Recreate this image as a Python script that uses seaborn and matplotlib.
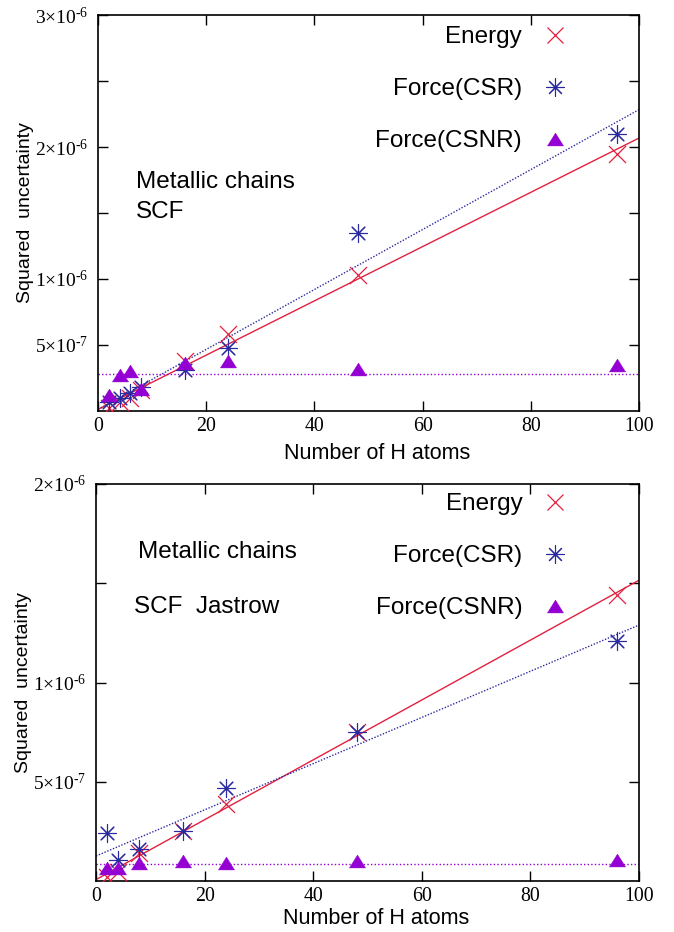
import numpy as np
import pandas as pd
import matplotlib
matplotlib.use("Agg")
import matplotlib.pyplot as plt
import seaborn as sns
from matplotlib.lines import Line2D

# ---------------- data (values in units of 1e-6) ----------------
n_top = [2, 4, 6, 8, 16, 24, 48, 96]
energy_top = [0.02, 0.07, 0.10, 0.16, 0.38, 0.58, 1.03, 1.95]
csr_top = [0.07, 0.10, 0.14, 0.18, 0.31, 0.48, 1.35, 2.10]
csnr_top = [0.12, 0.27, 0.30, 0.17, 0.36, 0.38, 0.32, 0.35]

n_bot = [2, 4, 8, 16, 24, 48, 96]
energy_bot = [0.02, 0.045, 0.14, 0.25, 0.39, 0.75, 1.44]
csr_bot = [0.24, 0.105, 0.16, 0.25, 0.47, 0.75, 1.21]
csnr_bot = [0.065, 0.065, 0.09, 0.10, 0.09, 0.10, 0.105]

series_labels = ["Energy", "Force(CSR)", "Force(CSNR)"]
x_ticks = [0, 20, 40, 60, 80, 100]
x_tick_labels = ["0", "20", "40", "60", "80", "100"]
y_ticks_top = [0.5e-6, 1e-6, 1.5e-6, 2e-6, 2.5e-6, 3e-6]
y_tick_labels_top = ["5×10$^{\u20107}$", "1×10$^{\u20106}$", "", "2×10$^{\u20106}$", "", "3×10$^{\u20106}$"]
y_ticks_bot = [0.5e-6, 1e-6, 1.5e-6, 2e-6]
y_tick_labels_bot = ["5×10$^{\u20107}$", "1×10$^{\u20106}$", "", "2×10$^{\u20106}$"]
text_top = ["Metallic chains", "SCF"]
text_bot = ["Metallic chains", "SCF  Jastrow"]
xlabel = "Number of H atoms"
ylabel = "Squared  uncertainty"
UNIT = 1e-6

# ---------------- style ----------------
sns.set_style("ticks", {"axes.edgecolor": "black", "text.color": "black",
                        "xtick.color": "black", "ytick.color": "black",
                        "axes.labelcolor": "black"})
plt.rcParams["font.family"] = ["Liberation Sans", "DejaVu Sans"]
plt.rcParams["mathtext.fontset"] = "custom"
plt.rcParams["mathtext.rm"] = "Liberation Serif"
plt.rcParams["mathtext.it"] = "Liberation Serif:italic"
plt.rcParams["mathtext.default"] = "rm"

RED = "#e3203f"
BLUE = "#2a2aa0"
PURPLE = "#9400d3"
TRI = [(0, 0.8), (-1, -0.8), (1, -0.8), (0, 0.8)]
AST = (8, 2, 0)

fig = plt.figure(figsize=(6.74, 9.32), dpi=100)
ax_top = fig.add_axes([98 / 674, 1 - 411 / 932, 541 / 674, 396 / 932])
ax_bot = fig.add_axes([96 / 674, 1 - 881 / 932, 543 / 674, 397 / 932])


def panel(ax, n, e, c, s, ymax, yticks, ylabs, texts, text_pos, leg_anchor, xlab_y):
    df = pd.DataFrame({"n": n,
                       "energy": np.array(e) * UNIT,
                       "csr": np.array(c) * UNIT,
                       "csnr": np.array(s) * UNIT})
    ax.set_xlim(0, 100)
    ax.set_ylim(0, ymax)
    sns.regplot(data=df, x="n", y="energy", ax=ax, scatter=False, ci=None,
                truncate=False, line_kws=dict(color=RED, lw=1.0))
    sns.regplot(data=df, x="n", y="csr", ax=ax, scatter=False, ci=None,
                truncate=False, line_kws=dict(color=BLUE, lw=1.0, ls=(0, (1, 1.2))))
    ax.axhline(df["csnr"].mean(), color=PURPLE, lw=1.0, ls=(0, (1, 1.6)))
    sns.scatterplot(data=df, x="n", y="energy", ax=ax, marker="x", color=RED,
                    s=150, linewidth=0.9, zorder=3)
    sns.scatterplot(data=df, x="n", y="csr", ax=ax, marker=AST, color=BLUE,
                    s=170, linewidth=0.8, zorder=3)
    sns.scatterplot(data=df, x="n", y="csnr", ax=ax, marker=TRI, color=PURPLE,
                    s=135, edgecolor=PURPLE, linewidth=0.3, zorder=3)
    ax.set_xlim(0, 100)
    ax.set_ylim(0, ymax)

    ax.set_xticks(x_ticks, x_tick_labels, fontfamily="Liberation Serif", fontsize=14.3)
    ax.set_yticks(yticks, ylabs, fontfamily="Liberation Serif", fontsize=14)
    ax.tick_params(direction="in", length=7, width=1, top=True, right=True)
    ax.tick_params(axis="x", pad=4)
    ax.tick_params(axis="y", pad=7)
    for sp in ax.spines.values():
        sp.set_linewidth(1.2)
        sp.set_color("black")

    ax.set_xlabel(xlabel, fontsize=15.5)
    ax.set_ylabel(ylabel, fontsize=14)
    ax.xaxis.set_label_coords(0.516, xlab_y)
    ax.yaxis.set_label_coords(-0.118, 0.5)

    for t, (tx, ty) in zip(texts, text_pos):
        ax.text(tx, ty, t, transform=ax.transAxes, fontsize=17.5,
                ha="left", va="baseline")

    handles = [
        Line2D([], [], ls="none", marker="x", color=RED, markersize=12.2, mew=0.9),
        Line2D([], [], ls="none", marker=AST, color=BLUE, markersize=13, mew=0.8),
        Line2D([], [], ls="none", marker=TRI, color=PURPLE, markersize=11.6, mew=0.3),
    ]
    ax.legend(handles, series_labels, loc="upper right", bbox_to_anchor=leg_anchor,
              markerfirst=False, frameon=False, fontsize=17.5, labelspacing=1.24,
              handlelength=1.0, handletextpad=0.85, borderaxespad=0, borderpad=0)


panel(ax_top, n_top, energy_top, csr_top, csnr_top, 3e-6,
      y_ticks_top, y_tick_labels_top, text_top,
      [(0.070, 0.563), (0.070, 0.487)], (0.867, 0.972), -0.081)
panel(ax_bot, n_bot, energy_bot, csr_bot, csnr_bot, 2e-6,
      y_ticks_bot, y_tick_labels_bot, text_bot,
      [(0.077, 0.814), (0.070, 0.675)], (0.868, 0.977), -0.068)

fig.savefig("out.png", dpi=100)
